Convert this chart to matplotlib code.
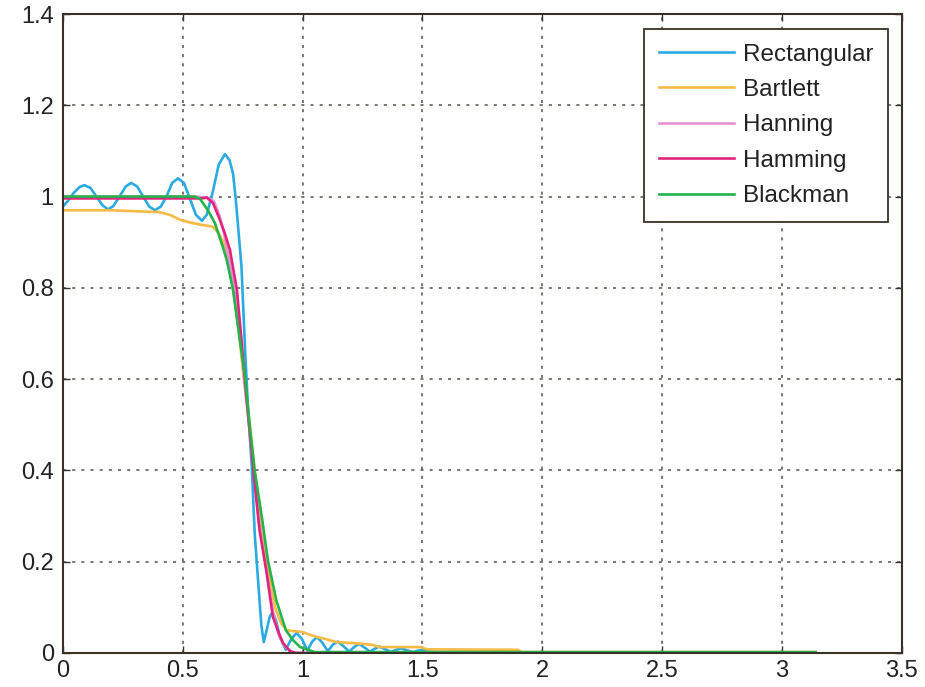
import matplotlib
matplotlib.use("Agg")
import matplotlib.pyplot as plt

# ---- data ----
rect_x = [0, 0.02, 0.045, 0.07, 0.09, 0.115, 0.14, 0.165, 0.188, 0.21, 0.236, 0.262, 0.285,
          0.31, 0.335, 0.36, 0.384, 0.408, 0.432, 0.456, 0.48, 0.505, 0.53, 0.555, 0.58,
          0.6, 0.625, 0.65, 0.676, 0.695, 0.71, 0.72, 0.73, 0.745, 0.76, 0.772, 0.788, 0.80,
          0.815, 0.828, 0.838, 0.85, 0.862, 0.875, 0.89, 0.905, 0.93, 0.952, 0.975, 0.998,
          1.02, 1.04, 1.06, 1.083, 1.105, 1.126, 1.147, 1.17, 1.195, 1.215, 1.235, 1.258,
          1.28, 1.30, 1.32, 1.345, 1.37, 1.39, 1.41, 1.435, 1.46, 1.48, 1.5, 1.55, 3.14]
rect_y = [0.978, 0.99, 1.008, 1.021, 1.025, 1.019, 1.0, 0.981, 0.972, 0.979, 1.0, 1.022, 1.03,
          1.022, 1.0, 0.978, 0.97, 0.978, 1.0, 1.03, 1.04, 1.03, 0.995, 0.96, 0.947,
          0.96, 1.01, 1.07, 1.093, 1.08, 1.05, 1.0, 0.94, 0.846, 0.664, 0.539, 0.408, 0.263,
          0.153, 0.06, 0.024, 0.05, 0.078, 0.09, 0.07, 0.035, 0.007, 0.03, 0.044, 0.03,
          0.005, 0.025, 0.035, 0.022, 0.004, 0.018, 0.025, 0.015, 0.003, 0.013, 0.02, 0.012,
          0.003, 0.009, 0.014, 0.008, 0.002, 0.007, 0.01, 0.006, 0.002, 0.005, 0.007, 0.001, 0.001]

bart_x = [0, 0.2, 0.3, 0.4, 0.446, 0.49, 0.54, 0.58, 0.626, 0.65, 0.67, 0.69, 0.71, 0.735,
          0.755, 0.78, 0.80, 0.825, 0.85, 0.87, 0.885, 0.91, 0.935, 0.96, 1.0, 1.03, 1.06,
          1.1, 1.14, 1.2, 1.25, 1.29, 1.32, 1.49, 1.52, 1.9, 1.91, 3.14]
bart_y = [0.97, 0.97, 0.968, 0.966, 0.96, 0.949, 0.942, 0.938, 0.934, 0.92, 0.9, 0.86, 0.8, 0.7,
          0.6, 0.5, 0.4, 0.3, 0.2, 0.14, 0.1, 0.065, 0.05, 0.048, 0.046, 0.04, 0.035,
          0.03, 0.024, 0.022, 0.02, 0.018, 0.013, 0.013, 0.008, 0.007, 0.002, 0.002]

hann_x = [0, 0.55, 0.6, 0.63, 0.652, 0.672, 0.694, 0.72, 0.742, 0.764, 0.78, 0.80, 0.82, 0.85,
          0.876, 0.9, 0.925, 0.955, 0.98, 3.14]
hann_y = [1.0, 1.0, 0.998, 0.99, 0.96, 0.92, 0.86, 0.78, 0.68, 0.56, 0.48, 0.38, 0.28, 0.18,
          0.09, 0.04, 0.015, 0.003, 0.0, 0.0]

hamm_x = [0, 0.58, 0.6, 0.626, 0.655, 0.675, 0.697, 0.726, 0.745, 0.767, 0.78, 0.80, 0.82, 0.85,
          0.876, 0.9, 0.918, 0.947, 0.97, 3.14]
hamm_y = [0.996, 0.996, 0.998, 0.986, 0.949, 0.92, 0.883, 0.795, 0.686, 0.554, 0.482, 0.372,
          0.27, 0.175, 0.079, 0.045, 0.022, 0.004, 0.0, 0.0]

black_x = [0, 0.55, 0.572, 0.605, 0.634, 0.667, 0.684, 0.71, 0.738, 0.76, 0.78, 0.80, 0.83,
           0.855, 0.89, 0.93, 0.96, 0.99, 1.05, 3.14]
black_y = [1.0, 1.0, 0.995, 0.97, 0.942, 0.89, 0.86, 0.795, 0.686, 0.605, 0.495, 0.40, 0.298,
           0.204, 0.116, 0.05, 0.028, 0.013, 0.002, 0.002]

labels = ["Rectangular", "Bartlett", "Hanning", "Hamming", "Blackman"]
colors = ["#2BAAE2", "#F6BA45", "#E592D4", "#E2237B", "#25B34B"]

x_ticks = [0, 0.5, 1, 1.5, 2, 2.5, 3, 3.5]
x_tick_labels = ["0", "0.5", "1", "1.5", "2", "2.5", "3", "3.5"]
y_ticks = [0, 0.2, 0.4, 0.6, 0.8, 1.0, 1.2, 1.4]
y_tick_labels = ["0", "0.2", "0.4", "0.6", "0.8", "1", "1.2", "1.4"]

plt.rcParams['font.family'] = ['Liberation Sans', 'DejaVu Sans']

fig = plt.figure(figsize=(9.25, 6.87), dpi=100)
ax = fig.add_axes([0.068, 0.0495, 0.907, 0.9301])

series = [(rect_x, rect_y), (bart_x, bart_y), (hann_x, hann_y), (hamm_x, hamm_y), (black_x, black_y)]
for (xs, ys), lab, c in zip(series, labels, colors):
    ax.plot(xs, ys, color=c, lw=1.9, label=lab, solid_joinstyle='round')

ax.set_xlim(0, 3.5)
ax.set_ylim(0, 1.4)
ax.set_xticks(x_ticks)
ax.set_xticklabels(x_tick_labels)
ax.set_yticks(y_ticks)
ax.set_yticklabels(y_tick_labels)

edge = "#3a3128"
for s in ax.spines.values():
    s.set_color(edge)
    s.set_linewidth(1.5)
ax.tick_params(direction='in', top=True, right=True, length=5, width=1.0,
               color=edge, labelsize=17, labelcolor="#222222")
ax.tick_params(axis='y', pad=6.5)
ax.tick_params(axis='x', pad=5)
ax.grid(True, color="#555048", linestyle=(0, (2, 4)), linewidth=1.1)
ax.set_axisbelow(True)

leg = ax.legend(loc='upper right', bbox_to_anchor=(888 / 925, 1 - 29 / 687),
                bbox_transform=fig.transFigure, borderaxespad=0, fontsize=17.5,
                handlelength=3.1, handletextpad=0.35, labelspacing=0.55,
                borderpad=0.6, fancybox=False, framealpha=1)
leg.get_frame().set_edgecolor(edge)
leg.get_frame().set_linewidth(1.3)
for t in leg.get_texts():
    t.set_color("#222222")

fig.savefig("out.png", dpi=100)
